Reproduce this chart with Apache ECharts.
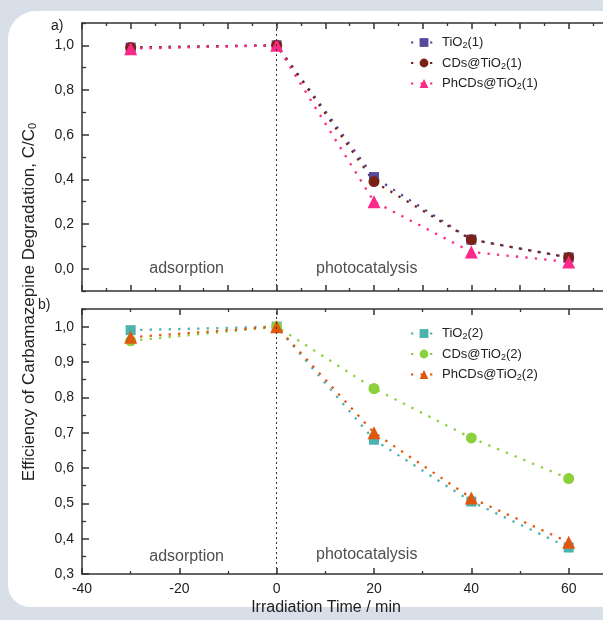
<!DOCTYPE html>
<html>
<head>
<meta charset="utf-8">
<script src="https://cdn.jsdelivr.net/npm/echarts@6/dist/echarts.min.js"></script>
<style>
  html, body { margin: 0; padding: 0; background: #d8dfe9; }
  #frame { position: absolute; left: 8px; top: 11px; width: 640px; height: 596px;
           background: #ffffff; border-radius: 28px 0 0 22px; }
  #chart { position: absolute; left: 0; top: 0; width: 603px; height: 620px; }
</style>
</head>
<body>
<div id="frame"></div>
<div id="chart"></div>
<script>
// Irradiation times (min); negative = dark adsorption step
const times = [-30, 0, 20, 40, 60];

// Panel a) C/C0 for series (1)
const tio2_1  = [0.99, 1.00, 0.41, 0.13, 0.05];
const cds_1   = [0.99, 1.00, 0.39, 0.13, 0.05];
const phcds_1 = [0.985, 1.00, 0.30, 0.075, 0.03];

// Panel b) C/C0 for series (2)
const tio2_2  = [0.99, 1.00, 0.68, 0.505, 0.375];
const cds_2   = [0.96, 1.00, 0.825, 0.685, 0.57];
const phcds_2 = [0.97, 1.00, 0.70, 0.515, 0.39];

// Axis tick values
const yMajorA = [0.0, 0.2, 0.4, 0.6, 0.8, 1.0];
const yMinorA = [-0.1, 0.1, 0.3, 0.5, 0.7, 0.9, 1.1];
const yMajorB = [0.3, 0.4, 0.5, 0.6, 0.7, 0.8, 0.9, 1.0];
const yMinorB = [0.35, 0.45, 0.55, 0.65, 0.75, 0.85, 0.95, 1.05];

const namesA = ['TiO2(1)', 'CDs@TiO2(1)', 'PhCDs@TiO2(1)'];
const namesB = ['TiO2(2)', 'CDs@TiO2(2)', 'PhCDs@TiO2(2)'];

const FONT = 'Liberation Sans, Arial, sans-serif';
const AXIS_COLOR = '#333333';
const TEXT_COLOR = '#222222';

const chart = echarts.init(document.getElementById('chart'), null, { renderer: 'canvas' });

function pairs(ys) { return times.map((t, i) => [t, ys[i]]); }

function lineSeries(name, ys, color, symbol, size, xi, yi) {
  return {
    type: 'line', name: name, xAxisIndex: xi, yAxisIndex: yi,
    data: pairs(ys), symbol: symbol, symbolSize: size,
    itemStyle: { color: color, opacity: 1 },
    lineStyle: { color: color, width: 2.3, type: [2.3, 7.2], cap: 'butt' },
    emphasis: { disabled: true }, animation: false
  };
}

function textMark(text, x, y, xi, yi) {
  return {
    type: 'scatter', xAxisIndex: xi, yAxisIndex: yi, symbolSize: 0,
    data: [[x, y]], silent: true, animation: false,
    label: { show: true, position: 'inside', formatter: text,
             fontFamily: FONT, fontSize: 16, color: TEXT_COLOR }
  };
}

function vline(xi, yi) {
  return {
    type: 'line', xAxisIndex: xi, yAxisIndex: yi, data: [], silent: true,
    markLine: {
      silent: true, symbol: 'none', animation: false,
      label: { show: false },
      lineStyle: { color: '#333', width: 1, type: [2, 3] },
      data: [{ xAxis: 0 }]
    }
  };
}

const fmtNum = v => Number(v).toFixed(1).replace('.', ',');

function xAxisDef(grid, pos, interval, minorSplit, showLabels) {
  return {
    type: 'value', gridIndex: grid, position: pos, min: -40, max: 80, interval: interval,
    axisLine: { show: true, onZero: false, lineStyle: { color: AXIS_COLOR, width: 1.5 } },
    axisTick: { show: true, inside: true, length: 6, lineStyle: { color: AXIS_COLOR, width: 1.5 } },
    minorTick: { show: true, splitNumber: minorSplit, length: 3, lineStyle: { color: AXIS_COLOR, width: 1.3 } },
    axisLabel: { show: showLabels, fontFamily: FONT, fontSize: 14, color: TEXT_COLOR, margin: 8,
                 formatter: v => (v <= 60 ? String(v) : '') },
    splitLine: { show: false }
  };
}

function yAxisMain(grid, min, max, values) {
  return {
    type: 'value', gridIndex: grid, min: min, max: max, position: 'left',
    axisLine: { show: true, onZero: false, lineStyle: { color: AXIS_COLOR, width: 1.5 } },
    axisTick: { show: true, inside: true, length: 7, customValues: values,
                lineStyle: { color: AXIS_COLOR, width: 1.5 } },
    axisLabel: { show: true, customValues: values, formatter: fmtNum,
                 fontFamily: FONT, fontSize: 14, color: TEXT_COLOR, margin: 8 },
    splitLine: { show: false }
  };
}

function yAxisMinor(grid, min, max, values) {
  return {
    type: 'value', gridIndex: grid, min: min, max: max, position: 'left',
    axisLine: { show: false, onZero: false },
    axisTick: { show: true, inside: true, length: 4, customValues: values,
                lineStyle: { color: AXIS_COLOR, width: 1.3 } },
    axisLabel: { show: false },
    splitLine: { show: false }
  };
}

function legendFmt(name) { return name.replace('O2', 'O{s|2}'); }

function legendDef(names, top, left) {
  return {
    data: names, orient: 'vertical', top: top, left: left,
    itemWidth: 26, itemHeight: 11, itemGap: 6, selectedMode: false,
    formatter: legendFmt,
    textStyle: {
      fontFamily: FONT, fontSize: 13, color: TEXT_COLOR,
      rich: { s: { fontFamily: FONT, fontSize: 9, color: TEXT_COLOR, padding: [7, 0, 0, 0] } }
    }
  };
}

const option = {
  animation: false,
  backgroundColor: 'transparent',
  grid: [
    { left: 82, top: 23, width: 584, height: 268, outerBoundsMode: 'none', containLabel: false },
    { left: 82, top: 309, width: 584, height: 265, outerBoundsMode: 'none', containLabel: false }
  ],
  xAxis: [
    xAxisDef(0, 'bottom', 10, 2, false),
    xAxisDef(0, 'top', 10, 2, false),
    xAxisDef(1, 'bottom', 20, 2, true),
    xAxisDef(1, 'top', 20, 2, false)
  ],
  yAxis: [
    yAxisMain(0, -0.1, 1.1, yMajorA),
    yAxisMinor(0, -0.1, 1.1, yMinorA),
    yAxisMain(1, 0.3, 1.05, yMajorB),
    yAxisMinor(1, 0.3, 1.05, yMinorB)
  ],
  legend: [
    legendDef(namesA, 31, 405),
    legendDef(namesB, 322, 405)
  ],
  series: [
    vline(0, 0),
    vline(2, 2),
    lineSeries(namesA[0], tio2_1, '#574a9c', 'rect', 10, 0, 0),
    lineSeries(namesA[1], cds_1, '#7a2216', 'circle', 11, 0, 0),
    lineSeries(namesA[2], phcds_1, '#fb2a88', 'triangle', 13, 0, 0),
    lineSeries(namesB[0], tio2_2, '#4bb2ae', 'rect', 10, 2, 2),
    lineSeries(namesB[1], cds_2, '#8cd03c', 'circle', 11, 2, 2),
    lineSeries(namesB[2], phcds_2, '#e0580e', 'triangle', 13, 2, 2),
    textMark('adsorption', -18.5, 0.0, 0, 0),
    textMark('photocatalysis', 18.5, 0.0, 0, 0),
    textMark('adsorption', -18.5, 0.35, 2, 2),
    textMark('photocatalysis', 18.5, 0.356, 2, 2)
  ],
  graphic: [
    { type: 'text', left: 51, top: 19, style: { text: 'a)', fontFamily: FONT, fontSize: 14, fill: TEXT_COLOR } },
    { type: 'text', left: 38, top: 298, style: { text: 'b)', fontFamily: FONT, fontSize: 14, fill: TEXT_COLOR } },
    {
      type: 'text', x: 29, y: 302, rotation: Math.PI / 2,
      style: {
        text: 'Efficiency of Carbamazepine Degradation, C/C{s|0}',
        fontFamily: FONT, fontSize: 17, fill: TEXT_COLOR,
        align: 'center', verticalAlign: 'middle',
        rich: { s: { fontFamily: FONT, fontSize: 11, fill: TEXT_COLOR, padding: [8, 0, 0, 0] } }
      }
    },
    {
      type: 'text', x: 326, y: 608,
      style: { text: 'Irradiation Time / min', fontFamily: FONT, fontSize: 16, fill: TEXT_COLOR,
               align: 'center', verticalAlign: 'middle' }
    }
  ]
};

chart.setOption(option);
</script>
</body>
</html>
